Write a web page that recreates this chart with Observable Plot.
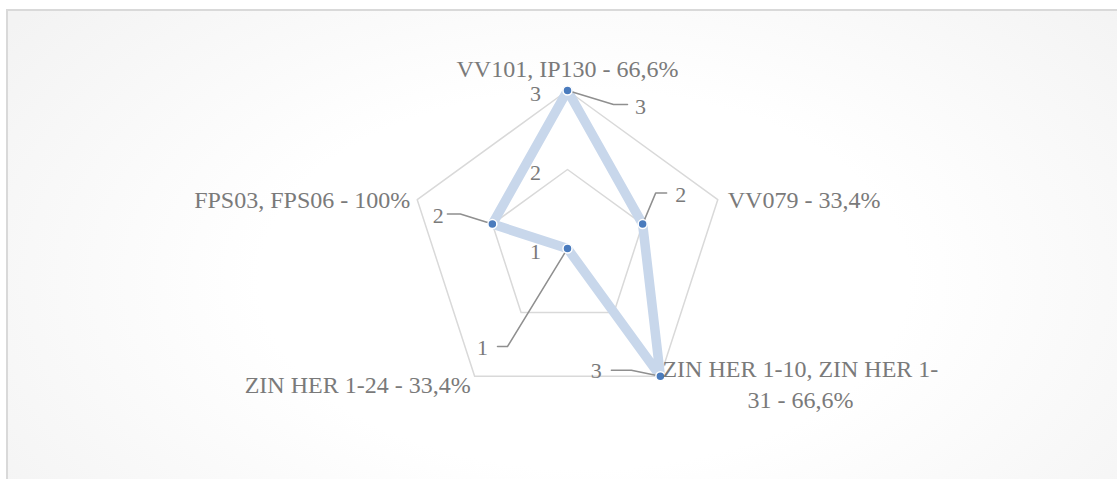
<!DOCTYPE html>
<html><head><meta charset="utf-8">
<script src="https://cdn.jsdelivr.net/npm/d3@7"></script>
<script src="https://cdn.jsdelivr.net/npm/@observablehq/plot@0.6"></script>
<style>
html,body{margin:0;padding:0;overflow:hidden;background:#fff;}
#wrap{position:relative;width:1117px;height:479px;overflow:hidden;}
#bg{position:absolute;left:6px;top:9px;width:1200px;height:560px;border-top:2px solid #d9d9d9;border-left:2px solid #d9d9d9;background:radial-gradient(ellipse 60% 75% at 48% 48%, #ffffff 0%, #ffffff 45%, #f3f3f3 100%);}
#chart{position:absolute;left:0;top:0;}
svg text{font-family:"Liberation Serif","DejaVu Serif",serif !important;}
</style></head><body>
<div id="wrap"><div id="bg"></div><div id="chart"></div></div>
<script>
// ---- data ----
const categories = [
  "VV101, IP130 - 66,6%",
  "VV079 - 33,4%",
  "ZIN HER 1-10, ZIN HER 1-\n31 - 66,6%",
  "ZIN HER 1-24 - 33,4%",
  "FPS03, FPS06 - 100%"
];
const values = [3, 2, 3, 1, 2];
const tickValues = [1, 2, 3];
const axisMin = 1, axisMax = 3;

// ---- layout ----
const W = 1117, H = 479;
const cx = 567, cy = 248, k = 79; // centre (px) and px per value unit
const n = categories.length;
const ang = i => i * 2 * Math.PI / n;
const polar = (v, i) => [(v - axisMin) * Math.sin(ang(i)), (v - axisMin) * Math.cos(ang(i))];
const off = ([x, y], dx, dy) => [x + dx / k, y - dy / k];

const pts = values.map((v, i) => { const [x, y] = polar(v, i); return {i, v, x, y}; });

const grid = [];
tickValues.filter(t => t > axisMin).forEach(t => categories.forEach((c, i) => { const [x, y] = polar(t, i); grid.push({t, x, y}); }));

// data label positions (px offsets from point) and leader elbows
const lab = [
  {l: [73, 16], e: [46, 14], f: [60, 14]},
  {l: [38, -29], e: [13, -31], f: [24, -31]},
  {l: [-64, -5], e: [-29, -6], f: [-49, -6]},
  {l: [-85, 99], e: [-60, 98], f: [-70, 98]},
  {l: [-54, -8], e: [-32, -10], f: [-45, -10]}
];
const leaders = [];
const dataLabels = [];
pts.forEach((p, i) => {
  const P = [p.x, p.y];
  const a = off(P, ...lab[i].e), b = off(P, ...lab[i].f), L = off(P, ...lab[i].l);
  leaders.push({i, x: p.x, y: p.y}, {i, x: a[0], y: a[1]}, {i, x: b[0], y: b[1]});
  dataLabels.push({x: L[0], y: L[1], text: String(p.v)});
});

const catPos = [
  {o: [0, -23], anchor: "middle"},
  {o: [10, -2], anchor: "start"},
  {o: [140, 6.5], anchor: "middle"},
  {o: [-4, 7], anchor: "end"},
  {o: [-7, -2], anchor: "end"}
];
const txt = "#7a7a7a";
const font = "Liberation Serif";

const catMarks = categories.map((c, i) => {
  const [x, y] = off(polar(axisMax, i), ...catPos[i].o);
  return Plot.text([{x, y, c}], {x: "x", y: "y", text: "c", textAnchor: catPos[i].anchor, lineAnchor: "middle",
    lineHeight: 1.3, fontSize: 24, fill: txt, fontFamily: font});
});

const chart = Plot.plot({
  width: W, height: H,
  marginTop: 0, marginRight: 0, marginBottom: 0, marginLeft: 0,
  style: {background: "transparent", fontFamily: font},
  x: {domain: [-cx / k, (W - cx) / k], range: [0, W], axis: null},
  y: {domain: [-(H - cy) / k, cy / k], range: [H, 0], axis: null},
  marks: [
    Plot.line(grid, {x: "x", y: "y", z: "t", curve: "linear-closed", stroke: "#d9d9d9", strokeWidth: 1.5}),
    Plot.line(pts, {x: "x", y: "y", curve: "linear-closed", stroke: "#c8d7eb", strokeWidth: 9.5, strokeLinejoin: "round"}),
    Plot.line(leaders, {x: "x", y: "y", z: "i", stroke: "#8f8f8f", strokeWidth: 1.5}),
    Plot.dot(pts, {x: "x", y: "y", r: 4.5, fill: "#4a7bbd", stroke: "white", strokeWidth: 1.5}),
    Plot.text(tickValues, {x: () => 0, y: t => t - axisMin, text: t => String(t), dx: -32, dy: 3, fontSize: 22, fill: txt, fontFamily: font}),
    Plot.text(dataLabels, {x: "x", y: "y", text: "text", fontSize: 22, fill: txt, fontFamily: font}),
    ...catMarks
  ]
});
document.getElementById("chart").appendChild(chart);
</script>
</body></html>
